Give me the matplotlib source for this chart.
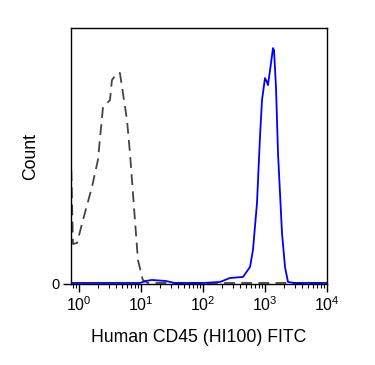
import matplotlib.pyplot as plt
from matplotlib.ticker import LogLocator, NullFormatter

plt.rcParams['font.family'] = ['Liberation Sans', 'DejaVu Sans']

# isotype / unstained control (dashed gray)
ctrl_x = [0.74, 0.80, 0.93, 1.16, 1.62, 2.02, 2.44, 3.16, 3.40, 4.10, 4.58, 4.94,
          5.95, 6.64, 7.99, 8.93, 10.7, 12.9, 30, 100, 300, 600, 1000, 2000, 10000]
ctrl_y = [131, 40, 41, 64, 97, 124, 177, 184, 204, 211, 211, 197,
          164, 131, 64, 24, 4, 1, 1, 1, 1, 1, 1, 1, 1]

# CD45 stained (blue)
cd45_x = [0.74, 5, 9.6, 12, 15, 25, 35, 100, 188, 272, 442, 573, 640, 743, 830, 895,
          1000, 1077, 1117, 1250, 1346, 1397, 1504, 1621, 1880, 2102, 2350, 3000, 10000]
cd45_y = [1, 1, 1, 3, 4, 3, 1, 1, 2, 6, 7, 17, 34, 81, 147, 184,
          206, 202, 199, 221, 236, 234, 197, 131, 51, 17, 2, 1, 1]

fig = plt.figure(figsize=(3.75, 3.65), dpi=100)
ax = fig.add_axes([0.189, 0.222, 0.683, 0.701])

ax.plot(ctrl_x, ctrl_y, color='#444444', linestyle=(0, (6, 3.5)), linewidth=1.3)
ax.plot(cd45_x, cd45_y, color='#0000ff', linewidth=1.3)

ax.set_xscale('log')
ax.set_xlim(0.74, 10000)
ax.set_ylim(0, 256)

ax.xaxis.set_major_locator(LogLocator(base=10, numticks=10))
ax.xaxis.set_minor_locator(LogLocator(base=10, subs=range(2, 10), numticks=20))
ax.xaxis.set_minor_formatter(NullFormatter())
ax.tick_params(axis='x', which='major', length=6, width=1, labelsize=11.5, pad=2)
ax.tick_params(axis='x', which='minor', length=3, width=0.8)

ax.set_yticks([0])
ax.set_yticklabels(['0'])
ax.tick_params(axis='y', length=6, width=1, labelsize=10.5, pad=2)

for s in ax.spines.values():
    s.set_linewidth(1)

ax.set_xlabel('Human CD45 (HI100) FITC', fontsize=12.7, labelpad=11)
ax.set_ylabel('Count', fontsize=12.7, labelpad=9)

plt.savefig('out.png', dpi=100)
